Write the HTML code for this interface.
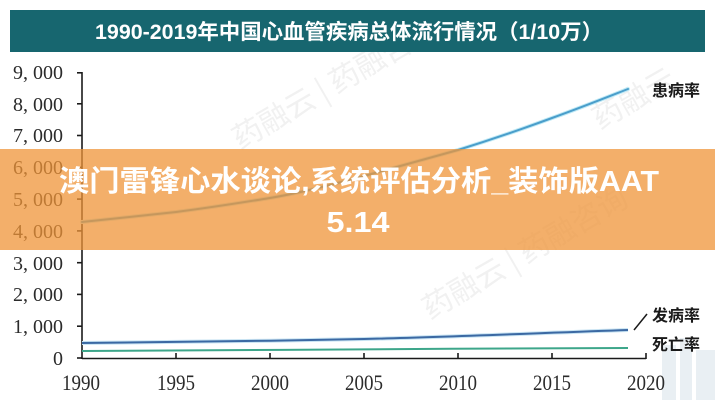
<!DOCTYPE html>
<html>
<head>
<meta charset="utf-8">
<style>
html,body{margin:0;padding:0;background:#fff;}
body{width:715px;height:400px;overflow:hidden;}
svg{display:block;}
</style>
</head>
<body>
<svg width="715" height="400" viewBox="0 0 715 400" xmlns="http://www.w3.org/2000/svg">
  <rect x="0" y="0" width="715" height="400" fill="#ffffff"/>

  <!-- faint watermarks -->
  <g fill="#f1f1f1" font-family="'Noto Sans CJK SC', sans-serif" font-size="30">
    <text x="240" y="150" transform="rotate(-30 240 150)">药融云 | 药融咨询</text>
    <text x="430" y="320" transform="rotate(-30 430 320)">药融云 | 药融咨询</text>
    <text x="600" y="130" transform="rotate(-30 600 130)">药融云</text>
  </g>
  <!-- faint building image bottom right -->
  <g fill="#e9eff3">
    <rect x="662" y="345" width="14" height="55"/>
    <rect x="680" y="338" width="12" height="62"/>
    <rect x="696" y="350" width="19" height="50"/>
  </g>

  <!-- title band -->
  <rect x="10" y="10" width="695" height="42" fill="#17666f"/>
  <text x="95" y="39" font-family="'Liberation Sans','Noto Sans CJK SC',sans-serif" font-weight="bold" font-size="21" fill="#ffffff" textLength="508" lengthAdjust="spacingAndGlyphs">1990-2019年中国心血管疾病总体流行情况（1/10万）</text>

  <!-- axes -->
  <g stroke="#1a1a1a" stroke-width="1.6" fill="none">
    <line x1="82" y1="72" x2="82" y2="359"/>
    <line x1="82" y1="358.5" x2="646" y2="358.5"/>
    <!-- y ticks -->
    <line x1="77" y1="358" x2="82" y2="358"/>
    <line x1="77" y1="326.2" x2="82" y2="326.2"/>
    <line x1="77" y1="294.4" x2="82" y2="294.4"/>
    <line x1="77" y1="262.7" x2="82" y2="262.7"/>
    <line x1="77" y1="230.9" x2="82" y2="230.9"/>
    <line x1="77" y1="199.1" x2="82" y2="199.1"/>
    <line x1="77" y1="167.3" x2="82" y2="167.3"/>
    <line x1="77" y1="135.5" x2="82" y2="135.5"/>
    <line x1="77" y1="103.8" x2="82" y2="103.8"/>
    <line x1="77" y1="72.8" x2="82" y2="72.8"/>
    <!-- x ticks -->
    <line x1="176" y1="353" x2="176" y2="358"/>
    <line x1="270" y1="353" x2="270" y2="358"/>
    <line x1="364" y1="353" x2="364" y2="358"/>
    <line x1="458" y1="353" x2="458" y2="358"/>
    <line x1="552" y1="353" x2="552" y2="358"/>
    <line x1="646" y1="353" x2="646" y2="359"/>
  </g>

  <!-- y labels -->
  <g font-family="'Liberation Serif',serif" font-size="20" fill="#2b2b2b" text-anchor="end">
    <text x="63" y="365">0</text>
    <text x="63" y="333">1, 000</text>
    <text x="63" y="301">2, 000</text>
    <text x="63" y="270">3, 000</text>
    <text x="63" y="238">4, 000</text>
    <text x="63" y="206">5, 000</text>
    <text x="63" y="174">6, 000</text>
    <text x="63" y="142">7, 000</text>
    <text x="63" y="111">8, 000</text>
    <text x="63" y="79">9, 000</text>
  </g>

  <!-- x labels -->
  <g font-family="'Liberation Serif',serif" font-size="22" fill="#2b2b2b">
    <text x="62" y="390" textLength="38" lengthAdjust="spacingAndGlyphs">1990</text>
    <text x="157" y="390" textLength="38" lengthAdjust="spacingAndGlyphs">1995</text>
    <text x="251" y="390" textLength="38" lengthAdjust="spacingAndGlyphs">2000</text>
    <text x="345" y="390" textLength="38" lengthAdjust="spacingAndGlyphs">2005</text>
    <text x="439" y="390" textLength="38" lengthAdjust="spacingAndGlyphs">2010</text>
    <text x="533" y="390" textLength="38" lengthAdjust="spacingAndGlyphs">2015</text>
    <text x="627" y="390" textLength="38" lengthAdjust="spacingAndGlyphs">2020</text>
  </g>

  <!-- series -->
  <path d="M82,222 C120,218 150,215 176,212 C215,207 245,202 270,198 C300,193 335,184 364,176 C400,166 430,158 458,150 C490,140 525,128 552,118 C580,108 605,98 628,89" fill="none" stroke="#bfe9f5" stroke-width="4" stroke-linecap="round"/>
  <path d="M82,222 C120,218 150,215 176,212 C215,207 245,202 270,198 C300,193 335,184 364,176 C400,166 430,158 458,150 C490,140 525,128 552,118 C580,108 605,98 628,89" fill="none" stroke="#4a9ecb" stroke-width="2" stroke-linecap="round"/>

  <path d="M82,343 C180,342 270,341 364,339 C450,337 540,333 628,330" fill="none" stroke="#c9e4f3" stroke-width="4"/>
  <path d="M82,343 C180,342 270,341 364,339 C450,337 540,333 628,330" fill="none" stroke="#3b69a3" stroke-width="2"/>

  <path d="M82,351 C200,350.5 330,349.5 450,348.8 C540,348.3 600,348 628,348" fill="none" stroke="#3da68a" stroke-width="2"/>

  <!-- series labels -->
  <g font-family="'Noto Sans CJK SC',sans-serif" font-weight="bold" font-size="16" fill="#1a1a1a">
    <text x="652" y="96">患病率</text>
    <text x="652" y="321">发病率</text>
    <text x="652" y="350">死亡率</text>
  </g>
  <line x1="634" y1="330" x2="647" y2="314" stroke="#1a1a1a" stroke-width="1.5"/>

  <!-- orange overlay band -->
  <rect x="0" y="149" width="715" height="101" fill="rgba(239,148,56,0.75)"/>
  <g font-family="'Liberation Sans','Noto Sans CJK SC',sans-serif" font-weight="bold" font-size="29" fill="#ffffff" text-anchor="middle">
    <text x="359" y="191" textLength="600" lengthAdjust="spacingAndGlyphs">澳门雷锋心水谈论,系统评估分析_装饰版AAT</text>
    <text x="358" y="232" textLength="63" lengthAdjust="spacingAndGlyphs">5.14</text>
  </g>
</svg>
</body>
</html>
